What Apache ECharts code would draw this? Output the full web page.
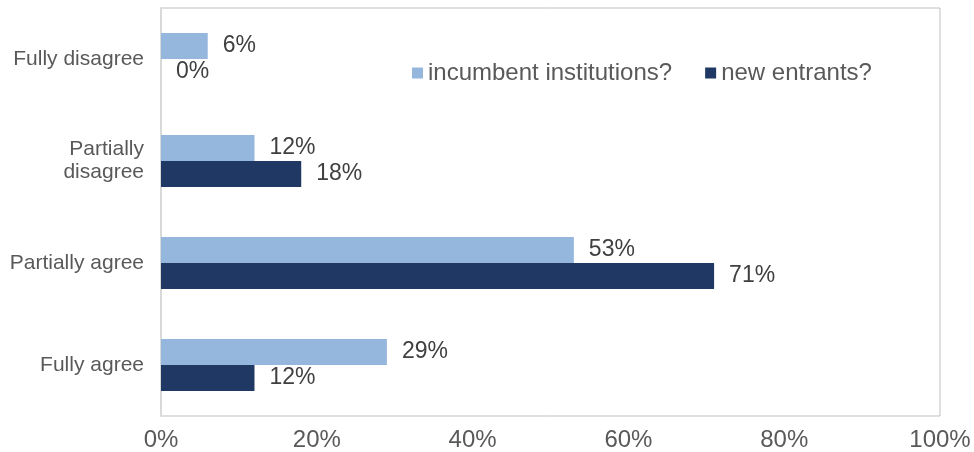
<!DOCTYPE html>
<html><head><meta charset="utf-8">
<script src="https://cdn.jsdelivr.net/npm/echarts@6/dist/echarts.min.js"></script>
<style>html,body{margin:0;padding:0;background:#fff}#c{width:974px;height:452px}</style>
</head><body><div id="c"></div>
<script>
var categories = ['Fully agree', 'Partially agree', 'Partially\ndisagree', 'Fully disagree'];
var seriesNames = ['incumbent institutions?', 'new entrants?'];
var incumbent = [29, 53, 12, 6];
var newEntrants = [12, 71, 18, 0];
var xTicks = { min: 0, max: 100, interval: 20 };

var chart = echarts.init(document.getElementById('c'));
var font = 'Liberation Sans, Arial, sans-serif';
var lbl = { show: true, position: 'right', distance: 15, formatter: '{c}%', color: '#404040', fontSize: 23, fontFamily: font };
chart.setOption({
  animation: false,
  grid: { left: 161, right: 34, top: 8, bottom: 36, show: true, borderColor: '#BFBFBF', borderWidth: 1, containLabel: false },
  legend: {
    data: seriesNames, left: 407, top: 56, icon: 'rect', itemWidth: 11, itemHeight: 11, itemGap: 33,
    textStyle: { color: '#595959', fontSize: 24, fontFamily: font }
  },
  xAxis: {
    type: 'value', min: xTicks.min, max: xTicks.max, interval: xTicks.interval,
    axisLabel: { formatter: '{value}%', color: '#595959', fontSize: 24, fontFamily: font, margin: 12 },
    splitLine: { show: false }, axisLine: { show: false }, axisTick: { show: false }
  },
  yAxis: {
    type: 'category', data: categories,
    axisLine: { show: true, lineStyle: { color: '#D9D9D9', width: 2 } }, axisTick: { show: false },
    axisLabel: { color: '#595959', fontSize: 21, fontFamily: font, margin: 17, lineHeight: 23, align: 'right' }
  },
  series: [
    { name: seriesNames[0], type: 'bar', data: incumbent, itemStyle: { color: '#95B7DE' }, barWidth: 26, barGap: '0%', label: lbl },
    { name: seriesNames[1], type: 'bar', data: newEntrants, itemStyle: { color: '#203864' }, barWidth: 26, barGap: '0%', label: lbl }
  ]
});
</script></body></html>
